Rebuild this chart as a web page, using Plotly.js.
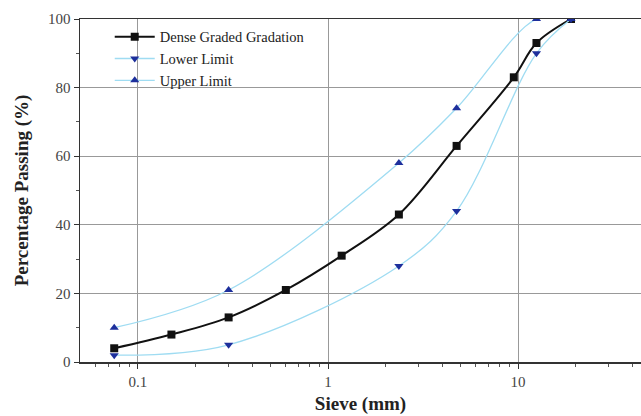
<!DOCTYPE html>
<html>
<head>
<meta charset="utf-8">
<script src="https://cdn.plot.ly/plotly-3.0.1.min.js"></script>
<style>html,body{margin:0;padding:0;background:#fff;}#chart{width:641px;height:416px;}</style>
</head>
<body>
<div id="chart"></div>
<script>
const sieveDense = [0.075, 0.15, 0.3, 0.6, 1.18, 2.36, 4.75, 9.5, 12.5, 19];
const passDense = [4, 8, 13, 21, 31, 43, 63, 83, 93, 100];
const sieveLimits = [0.075, 0.3, 2.36, 4.75, 12.5, 19];
const passLower = [2, 5, 28, 44, 90, 100];
const passUpper = [10, 21, 58, 74, 100, 100];
const xTickVals = [0.1, 1, 10];
const xTickText = ['0.1', '1', '10'];
const xMinorVals = [0.06,0.07,0.08,0.09,0.2,0.3,0.4,0.5,0.6,0.7,0.8,0.9,2,3,4,5,6,7,8,9,20,30,40];

const serif = 'Liberation Serif, Times New Roman, serif';
const traces = [
  {x: sieveDense, y: passDense, name: 'Dense Graded Gradation', mode: 'lines+markers',
   line: {color: '#111', width: 2, shape: 'spline'},
   marker: {symbol: 'square', size: 8, color: '#111'}},
  {x: sieveLimits, y: passLower, name: 'Lower Limit', mode: 'lines+markers',
   line: {color: '#9fdcf2', width: 1.3, shape: 'spline'},
   marker: {symbol: 'triangle-down', size: 8, color: '#1d2f9c'}},
  {x: sieveLimits, y: passUpper, name: 'Upper Limit', mode: 'lines+markers',
   line: {color: '#9fdcf2', width: 1.3, shape: 'spline'},
   marker: {symbol: 'triangle-up', size: 8, color: '#1d2f9c'}}
];
const layout = {
  width: 641, height: 416,
  margin: {l: 80, r: 0, t: 19, b: 54},
  paper_bgcolor: '#fff', plot_bgcolor: '#fff',
  font: {family: serif, color: '#222'},
  showlegend: true,
  legend: {x: 0.053, y: 0.995, xanchor: 'left', yanchor: 'top', bgcolor: 'rgba(0,0,0,0)',
           font: {family: serif, size: 14.5, color: '#222'}, itemwidth: 40, tracegroupgap: 0},
  xaxis: {type: 'log', range: [-1.305, 1.647], tickmode: 'array', tickvals: xTickVals, ticktext: xTickText,
          showline: true, linecolor: '#333', linewidth: 1.5, mirror: true,
          ticks: 'outside', ticklen: 5, tickcolor: '#333',
          showgrid: true, gridcolor: '#999', gridwidth: 1, zeroline: false,
          minor: {tickmode: 'array', tickvals: xMinorVals, ticks: 'outside', ticklen: 3, tickcolor: '#555', showgrid: false},
          tickfont: {family: serif, size: 15, color: '#444'},
          title: {text: '<b>Sieve (mm)</b>', font: {family: serif, size: 19, color: '#222'}, standoff: 8}},
  yaxis: {range: [0, 100], tickvals: [0, 20, 40, 60, 80, 100], ticktext: ['0','20','40','60','80','100'],
          showline: true, linecolor: '#333', linewidth: 1.5,
          ticks: 'outside', ticklen: 5, tickcolor: '#333',
          showgrid: true, gridcolor: '#999', gridwidth: 1, zeroline: false,
          minor: {dtick: 10, ticks: 'outside', ticklen: 3, tickcolor: '#555', showgrid: false},
          tickfont: {family: serif, size: 15, color: '#444'},
          title: {text: '<b>Percentage Passing (%)</b>', font: {family: serif, size: 19, color: '#222'}, standoff: 14}}
};
Plotly.newPlot('chart', traces, layout, {displayModeBar: false, staticPlot: true});
</script>
</body>
</html>
